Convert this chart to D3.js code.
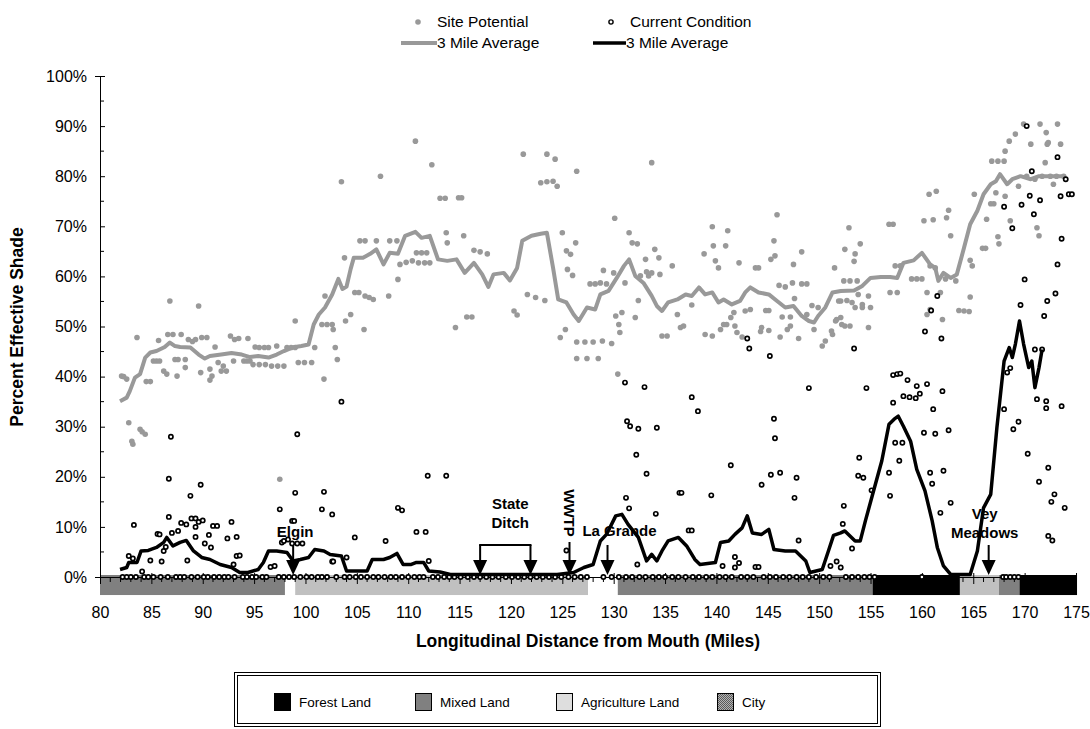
<!DOCTYPE html>
<html>
<head>
<meta charset="utf-8">
<script src="https://cdn.jsdelivr.net/npm/d3@7"></script>
<style>
  body { margin: 0; background: #fff; }
  text { font-family: "Liberation Sans", Arial, sans-serif; fill: #000; }
</style>
</head>
<body>
<div id="shade_plot"></div>
<script>
// ---- data (mile, percent effective shade) ----
const xTicks = [80, 85, 90, 95, 100, 105, 110, 115, 120, 125, 130, 135, 140, 145, 150, 155, 160, 165, 170, 175];
const yTicks = [0, 10, 20, 30, 40, 50, 60, 70, 80, 90, 100];

// 3 mile running average of site potential shade
const potentialAvg = [[81.95,35.1],[82.6,35.8],[82.9,37.1],[83.4,39.8],[83.9,40.5],[84.4,43.8],[84.9,44.8],[85.5,45.1],[86.3,45.9],[86.8,46.8],[87.3,46.1],[87.8,45.9],[88.8,45.8],[89.6,44.4],[90.2,43.6],[90.7,44.1],[91.8,44.4],[92.8,44.7],[93.8,44.4],[94.6,43.9],[95.4,44.1],[96.4,43.8],[97.2,44.4],[97.9,45.1],[98.7,45.8],[99.6,46.1],[100.3,46.4],[100.8,50.4],[101.3,52.4],[101.9,53.8],[102.6,56.4],[103.2,59.5],[103.6,57.5],[104.0,58.0],[104.4,61.5],[104.7,63.7],[105.6,63.7],[106.3,64.5],[106.9,65.4],[107.6,62.4],[108.2,64.7],[109.0,64.5],[109.7,68.1],[110.7,68.9],[111.3,67.7],[112.1,68.1],[112.9,63.4],[113.8,63.1],[114.7,63.4],[115.5,60.7],[116.4,62.7],[117.2,60.4],[117.8,57.9],[118.3,60.4],[119.3,60.7],[119.9,59.2],[120.6,61.7],[121.1,67.1],[122.0,68.1],[122.9,68.5],[123.5,68.7],[124.1,61.7],[124.6,55.4],[125.4,54.8],[126.1,52.4],[126.6,51.1],[127.4,53.8],[128.2,53.4],[128.7,56.4],[129.5,57.1],[130.3,59.7],[131.0,62.1],[131.5,63.4],[132.1,60.1],[132.9,58.7],[133.7,56.1],[134.2,54.1],[134.7,53.1],[135.3,54.8],[136.2,55.4],[137.0,56.4],[137.6,56.1],[138.3,57.8],[138.9,56.4],[139.6,56.8],[140.2,54.8],[140.7,55.4],[141.5,54.4],[142.3,55.1],[142.8,56.8],[143.3,57.8],[144.1,56.8],[145.1,56.4],[145.9,55.1],[146.7,53.8],[147.5,54.1],[148.3,52.1],[149.0,51.1],[149.5,50.8],[149.9,52.1],[150.6,53.8],[151.3,56.8],[152.1,57.1],[153.4,57.2],[154.2,58.1],[155.0,59.7],[156.0,59.9],[156.9,59.9],[157.6,59.7],[158.2,62.7],[159.2,63.2],[160.0,64.7],[160.8,62.4],[161.3,61.7],[161.6,59.1],[162.1,60.7],[162.8,59.7],[163.4,60.4],[164.1,65.7],[164.7,70.4],[165.4,73.1],[166.0,76.4],[166.7,78.4],[167.2,79.0],[167.6,80.4],[168.3,78.4],[168.8,79.4],[169.6,80.0],[170.6,79.4],[171.4,80.0],[172.5,80.0],[173.8,80.0]];

// 3 mile running average of current condition shade
const currentAvg = [[81.95,1.5],[82.6,1.9],[82.8,2.9],[83.6,2.9],[84.0,5.2],[84.7,5.3],[85.5,5.9],[86.2,6.9],[86.5,7.9],[87.1,6.2],[87.8,6.9],[88.4,7.3],[89.1,5.2],[89.9,3.9],[90.7,3.5],[91.7,2.5],[92.8,1.9],[93.6,0.9],[94.4,0.9],[95.4,1.5],[95.9,2.9],[96.4,5.2],[97.2,5.2],[98.2,4.9],[98.8,3.2],[99.5,3.5],[100.3,3.9],[100.9,5.5],[101.8,5.2],[102.4,4.5],[103.5,4.2],[104.0,1.2],[106.0,1.2],[106.5,3.5],[107.6,3.5],[108.2,3.9],[108.9,4.7],[109.5,2.5],[110.3,2.5],[110.8,2.9],[111.5,2.9],[112.0,1.2],[113.1,1.0],[114.1,0.5],[122.2,0.5],[124.5,0.5],[126.1,0.9],[127.1,1.9],[128.0,2.5],[128.7,7.2],[129.3,8.5],[130.2,12.2],[130.8,12.5],[131.4,10.5],[132.4,7.9],[133.2,3.2],[133.7,4.5],[134.2,3.2],[134.7,5.2],[135.3,7.2],[136.3,7.9],[137.1,6.2],[137.9,3.5],[138.4,2.5],[139.9,2.9],[140.4,6.9],[141.2,7.2],[141.8,8.5],[142.5,9.8],[143.0,12.2],[143.5,8.8],[144.4,8.5],[145.1,9.5],[145.6,5.5],[146.7,5.2],[147.7,5.2],[148.7,3.2],[149.1,0.9],[150.3,1.5],[150.9,5.2],[151.4,8.3],[152.1,8.8],[152.5,9.2],[153.5,7.2],[154.0,7.2],[154.5,11.2],[155.3,17.2],[156.1,23.2],[156.8,30.5],[157.3,31.5],[157.7,32.1],[158.2,30.1],[158.9,27.1],[159.5,21.5],[160.3,17.2],[161.0,11.2],[161.5,5.9],[162.1,2.2],[162.8,0.5],[164.7,0.5],[165.4,5.2],[166.0,13.8],[166.7,16.5],[167.3,29.8],[168.0,43.1],[168.5,45.8],[168.8,43.8],[169.1,46.5],[169.5,51.1],[169.9,46.5],[170.4,41.8],[170.7,43.1],[171.0,37.8],[171.4,41.8],[171.7,45.4]];

// site potential samples
const sitePotential = [[82.1,40.1],[82.3,40.0],[82.6,39.5],[82.8,30.8],[83.1,27.1],[83.2,26.5],[83.9,29.5],[84.1,29.0],[84.4,28.5],[83.6,47.8],[84.5,39.0],[84.9,39.0],[85.2,43.1],[85.5,43.1],[85.8,43.1],[85.7,47.2],[86.2,41.1],[86.5,40.5],[86.8,55.1],[86.6,48.4],[87.1,48.4],[87.3,43.4],[87.6,43.4],[88.3,43.4],[87.5,40.1],[87.9,48.4],[88.3,41.8],[88.6,47.4],[89.0,47.0],[89.3,47.4],[89.6,54.1],[89.9,47.8],[90.4,47.8],[89.8,40.8],[90.7,41.5],[90.9,40.1],[90.7,39.3],[91.2,45.9],[91.5,42.8],[92.0,42.1],[91.8,41.1],[92.3,41.1],[92.7,48.1],[93.1,47.4],[93.0,43.1],[93.5,47.6],[94.0,43.1],[94.3,43.1],[94.6,43.1],[94.4,47.6],[95.1,45.9],[95.5,45.8],[96.0,45.8],[96.4,45.8],[94.9,42.4],[95.5,42.4],[96.1,42.4],[96.7,42.1],[97.3,42.1],[97.9,42.1],[97.2,46.1],[98.2,45.8],[98.6,45.8],[99.0,45.8],[99.0,51.1],[99.3,42.8],[99.9,42.8],[100.6,42.8],[100.9,45.8],[101.8,39.5],[101.9,56.1],[101.6,50.4],[102.1,50.4],[102.6,50.4],[102.7,49.4],[102.9,45.8],[103.1,43.4],[103.5,78.9],[103.8,63.7],[103.9,51.1],[104.4,52.4],[97.5,19.5],
  [104.8,56.8],[105.2,56.8],[105.3,67.1],[105.8,67.1],[105.8,56.1],[106.2,55.8],[106.6,55.4],[105.7,49.4],[106.9,67.1],[107.3,80.0],[108.1,56.1],[108.2,67.1],[108.9,67.1],[109.0,59.4],[109.2,62.4],[109.8,62.8],[110.4,63.1],[110.7,87.0],[110.8,64.7],[111.3,64.7],[111.8,64.7],[111.0,62.7],[111.6,62.7],[112.1,62.7],[112.3,82.3],[113.1,75.6],[113.6,75.6],[113.7,68.7],[113.8,66.7],[114.6,49.8],[114.9,75.7],[115.2,75.7],[115.4,68.1],[115.7,51.9],[116.2,51.9],[116.4,65.2],[117.0,64.9],[117.7,64.5],[120.3,53.1],[120.6,52.3],[121.2,84.4],[121.6,56.4],[122.4,55.8],[123.3,55.2],[122.9,78.7],[123.5,78.9],[124.1,79.0],[123.5,84.4],[124.3,83.4],[124.5,78.0],[125.0,68.7],[125.4,65.1],[125.8,64.4],[125.5,61.4],[126.0,60.2],[126.3,66.7],[126.4,81.0],[124.8,47.8],[125.3,49.4],[126.4,46.9],[127.2,46.9],[128.0,46.9],[126.4,43.6],[127.4,43.6],[128.5,43.6],[127.7,58.5],[128.2,58.5],[128.7,58.7],
  [128.9,47.1],[129.8,46.6],[129.3,58.5],[129.0,61.2],[130.0,60.7],[130.1,71.6],[130.4,40.5],[130.2,52.1],[130.8,52.8],[130.5,50.4],[130.6,48.8],[131.1,58.7],[131.5,68.7],[131.8,66.7],[132.3,66.5],[132.1,51.8],[132.4,55.2],[132.6,60.1],[133.4,60.1],[133.1,63.4],[133.2,60.9],[133.7,60.7],[133.7,82.7],[134.0,65.4],[134.4,63.7],[134.5,60.4],[134.7,48.1],[135.2,48.1],[135.7,62.1],[136.2,52.4],[136.5,49.8],[136.8,50.1],[137.6,54.3],[138.8,64.5],[138.9,48.4],[139.6,48.1],[139.6,69.9],[139.7,66.1],[139.9,63.1],[140.2,61.7],[140.4,49.4],[140.9,66.1],[141.1,69.1],[140.7,50.4],[141.0,50.4],[141.4,51.8],[141.7,52.8],[141.8,50.1],[142.0,48.8],[142.5,47.9],[142.2,62.7],[142.8,53.1],[143.3,53.4],[143.8,61.7],[144.1,61.7],[144.3,49.0],[144.4,49.8],[144.8,53.2],[145.1,53.2],[145.1,49.2],[145.3,63.4],[145.7,64.1],[145.6,67.1],[145.9,72.3],[146.1,58.2],[146.7,57.9],[146.2,47.9],[146.4,51.9],[147.2,51.9],[146.9,49.4],[147.2,50.1],[147.4,58.7],[147.5,62.4],[147.6,55.6],[148.0,47.6],[148.3,64.9],[148.3,58.5],[148.8,58.5],[148.8,52.4],[149.9,53.8],[149.3,54.2],[149.5,49.4],[150.3,46.1],[151.3,48.4],[150.6,47.1],[151.5,61.7],[151.6,51.1],[152.1,51.8],[151.9,55.1],
  [151.2,49.1],[151.7,51.4],[152.2,50.4],[152.5,50.1],[153.0,50.1],[152.1,55.1],[152.7,55.2],[152.4,59.1],[153.0,59.1],[153.7,59.1],[152.5,65.4],[152.9,69.7],[153.4,63.0],[153.5,64.5],[154.0,66.5],[153.2,54.8],[154.2,54.4],[153.5,53.8],[154.2,53.8],[155.0,53.8],[153.8,56.4],[154.8,56.1],[154.8,49.8],[156.8,70.4],[157.2,70.4],[156.9,56.8],[157.6,56.8],[157.4,62.1],[157.9,62.1],[159.0,59.5],[159.5,59.5],[160.0,59.5],[160.2,71.1],[160.5,56.8],[160.7,76.4],[161.4,77.0],[161.1,71.3],[160.8,62.1],[161.3,61.7],[160.5,52.4],[160.8,53.4],[161.8,56.8],[162.0,51.4],[162.4,71.7],[162.6,73.2],[162.8,68.1],[162.3,59.5],[163.3,59.1],[163.6,53.2],[164.1,53.1],[164.6,53.0],[164.7,55.9],[164.7,63.2],[164.9,62.1],[165.1,76.4],[165.9,65.6],[166.2,65.6],[166.3,71.4],[166.7,74.5],[167.0,74.5],[166.8,83.0],[167.4,83.0],[168.0,83.0],[167.2,76.7],[167.4,67.9],[167.5,66.5],[168.1,85.0],[168.5,87.0],[168.1,76.0],[168.6,71.1],[169.1,88.4],[169.4,78.0],[169.9,90.4],[170.2,80.0],[170.6,86.4],[171.0,79.4],[171.2,69.7],[171.4,68.1],[171.5,90.4],[171.7,80.0],[172.0,82.7],[172.2,86.4],[172.3,86.7],[172.1,88.7],[173.2,90.4],[173.5,86.4],[172.5,80.0],[173.1,80.0],[173.8,80.0],[172.8,78.4]];

// current condition samples above zero
const currentCondition = [[83.3,10.4],[84.9,3.3],[86.0,3.1],[82.8,4.2],[83.2,3.7],[84.1,1.1],[85.6,8.6],[85.8,8.5],[86.2,5.2],[86.4,6.0],[86.7,12.0],[87.0,8.8],[86.7,19.6],[86.9,28.0],[87.6,9.2],[87.9,10.8],[88.4,10.5],[88.5,3.3],[88.8,16.2],[88.9,11.7],[89.3,11.7],[89.3,10.0],[89.3,8.0],[89.6,11.0],[90.0,11.3],[89.8,18.4],[90.2,6.7],[90.8,5.9],[90.6,8.4],[91.0,10.2],[91.4,10.2],[92.4,7.7],[93.3,8.0],[92.8,11.0],[93.0,2.5],[93.3,4.2],[93.6,4.3],[97.5,13.5],[97.7,6.9],[97.9,7.2],[98.3,7.5],[98.7,11.2],[98.9,11.2],[99.0,16.8],[99.2,28.5],[98.7,6.7],[99.2,6.7],[99.7,6.7],[96.6,2.0],[97.0,2.2],[101.8,17.0],[101.6,13.5],[102.6,12.5],[102.6,3.1],[102.7,3.1],[103.5,35.0],[104.0,3.9],[104.8,7.9],[107.8,7.2],[109.0,13.8],[109.4,13.3],[110.8,9.0],[111.7,9.0],[111.9,20.2],[113.7,20.2],[112.0,3.2],[125.4,5.3],[131.1,38.8],[133.0,37.9],[131.3,31.1],[131.6,30.1],[132.4,29.6],[134.2,29.8],[132.2,24.4],[133.2,20.6],[131.2,15.8],[131.5,13.7],[134.1,12.6],[132.3,2.5],[136.4,16.8],[136.6,16.8],[137.6,35.9],[138.2,33.1],[137.3,9.3],[137.6,9.3],[139.5,16.3],[141.4,22.3],[141.8,4.0],[142.2,2.8],[141.8,1.9],[140.6,2.2],[143.2,45.6],[143.0,47.6],[145.2,44.1],[145.6,31.6],[145.7,27.7],[144.4,18.4],[145.3,20.4],[146.2,20.8],[147.8,19.8],[147.6,15.8],[148.0,7.3],[149.0,37.7],[143.8,2.0],[144.1,2.0],[151.7,3.1],[151.1,2.2],[152.1,1.9],[152.3,10.6],[152.4,14.2],[153.2,5.7],[153.4,45.6],[153.9,23.8],[153.8,20.2],[154.3,19.8],[154.6,37.7],[155.1,17.3],[156.8,20.8],[156.9,16.2],[157.2,34.8],[157.2,40.3],[157.6,40.5],[157.9,40.6],[157.4,26.8],[158.1,26.8],[157.8,23.2],[158.2,36.1],[158.8,35.9],[159.4,35.7],[158.6,39.3],[159.5,38.1],[159.8,36.6],[160.5,38.5],[160.3,49.0],[160.9,53.2],[161.9,47.6],[162.0,37.1],[161.1,33.5],[160.2,28.8],[161.3,28.6],[162.6,29.3],[160.8,20.8],[161.0,18.6],[162.1,21.2],[161.8,12.8],[162.8,14.8],[161.5,56.1],[168.0,73.9],[168.8,69.6],[169.7,74.3],[170.5,76.1],[170.9,72.4],[171.5,75.2],[170.2,90.0],[170.7,81.0],[173.2,83.8],[173.5,76.0],[174.0,79.4],[174.3,76.4],[174.6,76.4],[173.6,67.5],[173.2,62.4],[170.0,59.4],[169.6,54.3],[172.2,55.1],[173.0,56.6],[171.9,52.1],[171.0,45.4],[171.7,45.4],[168.6,41.7],[168.3,40.8],[171.2,35.5],[172.1,35.1],[172.1,33.7],[173.6,34.1],[168.0,33.5],[169.4,31.0],[168.9,29.5],[170.3,24.6],[172.3,21.8],[171.4,19.0],[172.9,16.5],[172.6,15.0],[173.9,13.8],[172.3,8.2],[172.7,7.3]];

// current condition samples with zero shade (miles)
const zeroShadeMiles = [82.2,82.6,83.0,83.5,84.3,84.7,85.2,85.9,86.6,87.4,87.8,88.2,88.9,89.5,90.1,90.5,91.1,91.6,92.1,92.5,93.1,93.9,94.3,94.8,95.2,95.8,96.2,97.4,97.9,98.4,98.9,99.5,100.1,100.6,101.2,101.6,102.1,103.0,103.8,104.3,104.9,105.4,106.0,106.6,107.1,107.7,108.3,108.8,109.4,110.0,110.6,111.1,111.5,112.4,112.9,113.5,114.0,114.5,115.1,115.8,116.4,117.0,117.6,118.2,118.8,119.5,120.1,120.7,121.3,121.9,122.5,123.1,123.7,124.3,124.9,125.6,126.2,126.8,127.4,129.0,129.8,130.5,131.2,131.8,132.5,133.1,133.8,134.4,135.0,135.7,136.3,137.0,137.7,138.3,139.0,139.6,140.3,140.9,141.5,142.4,143.0,143.6,144.6,145.2,145.8,146.5,147.1,147.8,148.4,149.0,149.7,150.4,151.0,152.6,153.2,153.8,154.4,154.9,155.4,160.0,167.9,168.2,168.6,169.0,169.4];

// land use along the stream: [from mile, to mile, class]
const landUse = [[80.0,98.0,"Mixed Land"],[99.0,127.5,"Agriculture Land"],[130.4,155.2,"Mixed Land"],[155.2,163.7,"Forest Land"],[163.7,167.5,"Agriculture Land"],[167.5,169.5,"Mixed Land"],[169.5,175.1,"Forest Land"]];
const landNames = ["Forest Land", "Mixed Land", "Agriculture Land", "City"];
const landColors = ["#000000", "#808080", "#c0c0c0", "url(#cityPat)"];

// landmarks along the river
const placeNames = [["Elgin"], ["State", "Ditch"], ["WWTP"], ["La Grande"], ["Vey", "Meadows"]];
const placeMiles = [[98.8], [117.0, 121.9], [125.7], [129.4], [166.5]];

// ---- chart ----
const width = 1090, height = 729;
const svg = d3.select("#shade_plot").append("svg")
    .attr("width", width)
    .attr("height", height);

const defs = svg.append("defs");
const pat = defs.append("pattern").attr("id", "cityPat")
    .attr("width", 2).attr("height", 2).attr("patternUnits", "userSpaceOnUse");
pat.append("rect").attr("width", 2).attr("height", 2).attr("fill", "#b4b4b4");
pat.append("rect").attr("width", 1).attr("height", 1).attr("fill", "#5a5a5a");
pat.append("rect").attr("x", 1).attr("y", 1).attr("width", 1).attr("height", 1).attr("fill", "#5a5a5a");

const xScale = d3.scaleLinear().domain([80, 175]).range([100, 1076]);
const yScale = d3.scaleLinear().domain([0, 100]).range([577, 76]);
const landColor = d3.scaleOrdinal().domain(landNames).range(landColors);

// land use strip under the axis
svg.append("g").selectAll("rect")
    .data(landUse)
    .join("rect")
    .attr("x", d => xScale(d[0]))
    .attr("width", d => xScale(d[1]) - xScale(d[0]))
    .attr("y", yScale(0.4))
    .attr("height", yScale(-3.6) - yScale(0.4))
    .attr("fill", d => landColor(d[2]));

// x axis: major ticks every 5 miles, minor every mile
const xAxis = svg.append("g")
    .attr("transform", "translate(0," + yScale(0) + ")")
    .call(d3.axisBottom(xScale).tickValues(xTicks).tickSize(7).tickPadding(23).tickFormat(d3.format("d")));
xAxis.selectAll(".tick line").attr("y1", -4).attr("stroke", "#000");
xAxis.selectAll("text").style("font-size", "16px");
xAxis.select(".domain").attr("stroke", "#000");
const minorX = d3.range(80, 176).filter(m => m % 5 !== 0);
svg.append("g").selectAll("line")
    .data(minorX)
    .join("line")
    .attr("x1", d => xScale(d)).attr("x2", d => xScale(d))
    .attr("y1", yScale(0)).attr("y2", yScale(0) + 5)
    .attr("stroke", "#000");

// y axis
const yAxis = svg.append("g")
    .attr("transform", "translate(" + xScale(80) + ",0)")
    .call(d3.axisLeft(yScale).tickValues(yTicks).tickSize(5).tickPadding(8).tickFormat(d => d + "%"));
yAxis.selectAll(".tick line").attr("x2", 5).attr("stroke", "#000");
yAxis.selectAll("text").style("font-size", "16px");
yAxis.select(".domain").attr("stroke", "#000");
svg.append("g").selectAll("line")
    .data(yTicks.slice(1).map(v => v - 5))
    .join("line")
    .attr("x1", xScale(80)).attr("x2", xScale(80) + 4)
    .attr("y1", d => yScale(d)).attr("y2", d => yScale(d))
    .attr("stroke", "#000");

// axis titles
svg.append("text")
    .attr("x", 588).attr("y", 647)
    .attr("text-anchor", "middle")
    .style("font-size", "17.5px").style("font-weight", "bold")
    .text("Longitudinal Distance from Mouth (Miles)");
svg.append("text")
    .attr("transform", "translate(23,327) rotate(-90)")
    .attr("text-anchor", "middle")
    .style("font-size", "17.5px").style("font-weight", "bold")
    .text("Percent Effective Shade");

// site potential points and average
svg.append("g").selectAll("circle")
    .data(sitePotential)
    .join("circle")
    .attr("cx", d => xScale(d[0]))
    .attr("cy", d => yScale(d[1]))
    .attr("r", 2.8)
    .attr("fill", "#999");

const line = d3.line()
    .x(d => xScale(d[0]))
    .y(d => yScale(d[1]));

svg.append("path")
    .datum(potentialAvg)
    .attr("d", line)
    .attr("fill", "none")
    .attr("stroke", "#999")
    .attr("stroke-width", 4)
    .attr("stroke-linejoin", "round");

// current condition points and average
const zeroPts = zeroShadeMiles.map(m => [m, 0]);
svg.append("g").selectAll("circle")
    .data(currentCondition.concat(zeroPts))
    .join("circle")
    .attr("cx", d => xScale(d[0]))
    .attr("cy", d => yScale(d[1]))
    .attr("r", 2.1)
    .attr("fill", "#fff")
    .attr("stroke", "#000")
    .attr("stroke-width", 1.7);

svg.append("path")
    .datum(currentAvg)
    .attr("d", line)
    .attr("fill", "none")
    .attr("stroke", "#000")
    .attr("stroke-width", 3.5)
    .attr("stroke-linejoin", "round");

// landmark arrows
const labelLayout = [
  {dx: 2, y: [537], stem: 546},
  {dx: 5, y: [509, 528], stem: 545},
  {dx: -1, y: [513], stem: 542, rotate: true},
  {dx: 12, y: [536], stem: 545},
  {dx: -4, y: [519, 538], stem: 545}
];
const ann = svg.append("g");
function arrow(xp, top) {
  ann.append("line")
      .attr("x1", xp).attr("x2", xp)
      .attr("y1", top).attr("y2", 562)
      .attr("stroke", "#000").attr("stroke-width", 2);
  ann.append("path")
      .attr("d", `M${xp - 7},560 L${xp + 7},560 L${xp},575 Z`)
      .attr("fill", "#000");
}
placeNames.forEach((lines, i) => {
  const lay = labelLayout[i];
  const xs = placeMiles[i].map(m => xScale(m));
  xs.forEach(xp => arrow(xp, lay.stem));
  if (xs.length > 1) {
    ann.append("line")
        .attr("x1", xs[0] - 1).attr("x2", xs[1] + 1)
        .attr("y1", lay.stem).attr("y2", lay.stem)
        .attr("stroke", "#000").attr("stroke-width", 2);
  }
  const cx = d3.mean(xs) + lay.dx;
  if (lay.rotate) {
    ann.append("text")
        .attr("transform", `translate(${cx - 5},${lay.y[0]}) rotate(90)`)
        .attr("text-anchor", "middle")
        .style("font-size", "15px").style("font-weight", "bold")
        .text(lines[0]);
  } else {
    lines.forEach((t, j) => {
      ann.append("text")
          .attr("x", cx).attr("y", lay.y[j])
          .attr("text-anchor", "middle")
          .style("font-size", "15px").style("font-weight", "bold")
          .text(t);
    });
  }
});

// top legend
const legTop = svg.append("g");
legTop.append("circle").attr("cx", 418).attr("cy", 22).attr("r", 2.8).attr("fill", "#999");
legTop.append("text").attr("x", 437).attr("y", 27).style("font-size", "15.5px").text("Site Potential");
legTop.append("circle").attr("cx", 611).attr("cy", 22).attr("r", 2.1)
    .attr("fill", "#fff").attr("stroke", "#000").attr("stroke-width", 1.4);
legTop.append("text").attr("x", 630).attr("y", 27).style("font-size", "15.5px").text("Current Condition");
legTop.append("line").attr("x1", 401).attr("x2", 437).attr("y1", 43).attr("y2", 43)
    .attr("stroke", "#999").attr("stroke-width", 4);
legTop.append("text").attr("x", 437).attr("y", 48).style("font-size", "15.5px").text("3 Mile Average");
legTop.append("line").attr("x1", 593).attr("x2", 626).attr("y1", 43).attr("y2", 43)
    .attr("stroke", "#000").attr("stroke-width", 3.5);
legTop.append("text").attr("x", 626).attr("y", 48).style("font-size", "15.5px").text("3 Mile Average");

// land use legend box
const legBox = svg.append("g");
legBox.append("rect").attr("x", 234.5).attr("y", 672.5).attr("width", 646).attr("height", 54)
    .attr("fill", "#fff").attr("stroke", "#000");
legBox.append("rect").attr("x", 237.5).attr("y", 675.5).attr("width", 640).attr("height", 48)
    .attr("fill", "none").attr("stroke", "#000");
const legendX = [274, 415, 556, 717];
const legendFill = ["#000000", "#808080", "#dedede", "url(#cityPat)"];
landNames.forEach((n, i) => {
  legBox.append("rect")
      .attr("x", legendX[i] + 0.5).attr("y", 693.5)
      .attr("width", 16).attr("height", 17)
      .attr("fill", legendFill[i]).attr("stroke", "#000");
  legBox.append("text")
      .attr("x", legendX[i] + 25).attr("y", 707)
      .style("font-size", "13.5px")
      .text(n);
});
</script>
</body>
</html>
